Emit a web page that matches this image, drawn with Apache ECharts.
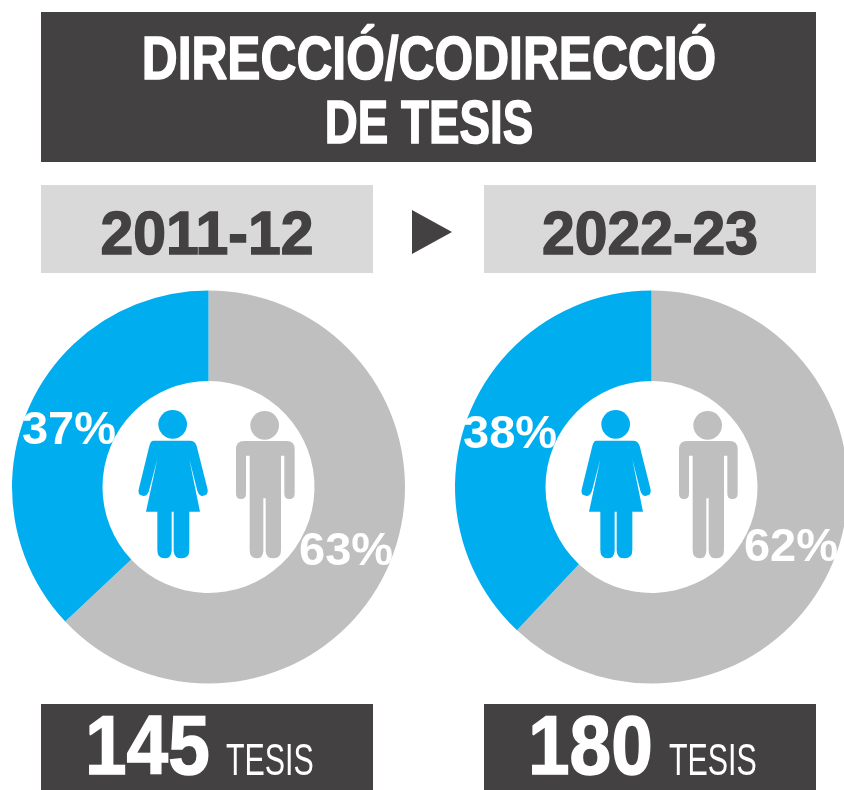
<!DOCTYPE html>
<html>
<head>
<meta charset="utf-8">
<style>
html, body { margin: 0; padding: 0; background: #fff; }
#chart { width: 844px; height: 790px; }
</style>
<script src="https://cdn.jsdelivr.net/npm/echarts@6/dist/echarts.min.js"></script>
</head>
<body>
<div id="chart"></div>
<script>
var titleLines = ["DIRECCIÓ/CODIRECCIÓ", "DE TESIS"];
var periods = ["2011-12", "2022-23"];
var womenShare = [37, 38];
var menShare = [63, 62];
var thesisCounts = [145, 180];
var thesisUnit = "TESIS";

var BLUE = "#00aeef";
var GREY = "#bfbfbf";
var DARK = "#434142";
var LIGHT = "#d9d9d9";
var FONT = '"Liberation Sans", sans-serif';

// siluetes dibuixades a escala 3x
var WOMAN_BODY = "M160 152H270Q285 152 290 168L322 295Q328 315 308 318Q297 318 292 302L268 208L300 365H268V480Q268 505 245 505Q222 505 221 482V365H215V482Q214 505 193 505Q172 505 172 480V365H138L172 208L147 302Q142 318 130 318Q110 315 117 295L148 168Q152 152 160 152Z";
var MAN_BODY = "M432 153H560Q584 153 584 178V312Q584 327 568 327Q553 327 553 312V197H543V480Q543 505 521 505Q498 505 497 482V325H490V482Q489 505 470 505Q449 505 449 480V197H438V312Q438 327 423 327Q408 327 408 312V178Q408 153 432 153Z";

echarts.graphic.registerShape("womanBody", echarts.graphic.extendPath(WOMAN_BODY, {}));
echarts.graphic.registerShape("manBody", echarts.graphic.extendPath(MAN_BODY, {}));

function box(x, y, w, h, color) {
    return { type: "rect", silent: true, shape: { x: x, y: y, width: w, height: h }, style: { fill: color } };
}

function label(text, x, y, size, color, sx) {
    return {
        type: "text",
        silent: true,
        x: x,
        y: y,
        scaleX: sx,
        style: {
            text: text,
            fill: color,
            stroke: color,
            lineWidth: 1.5,
            font: "bold " + size + "px " + FONT,
            align: "center",
            verticalAlign: "middle",
        },
    };
}

function figures(dx) {
    return {
        type: "group",
        silent: true,
        x: 100 + dx,
        y: 390,
        scaleX: 1 / 3,
        scaleY: 1 / 3,
        children: [
            { type: "circle", shape: { cx: 218, cy: 103, r: 43 }, style: { fill: BLUE } },
            { type: "womanBody", style: { fill: BLUE } },
            { type: "circle", shape: { cx: 494, cy: 106, r: 43 }, style: { fill: GREY } },
            { type: "manBody", style: { fill: GREY } },
        ],
    };
}

function countTexts(i, dx) {
    return [
        {
            type: "text",
            silent: true,
            x: 85 + dx,
            y: 751,
            scaleX: 0.89,
            style: { text: String(thesisCounts[i]), fill: "#fff", stroke: "#fff", lineWidth: 1.5, font: "bold 84px " + FONT, align: "left", verticalAlign: "middle" },
        },
        {
            type: "text",
            silent: true,
            x: 226 + dx,
            y: 763,
            scaleX: 0.69,
            style: { text: thesisUnit, fill: "#fff", font: "44px " + FONT, align: "left", verticalAlign: "middle" },
        },
    ];
}

function donut(i, cx) {
    return {
        type: "pie",
        silent: true,
        center: [cx, 487],
        radius: [106, 196.5],
        startAngle: 90,
        animation: false,
        labelLine: { show: false },
        label: {
            show: true,
            position: "inside",
            formatter: "{c}%",
            color: "#fff",
            fontFamily: FONT,
            fontWeight: "bold",
            fontSize: 47,
        },
        data: [
            { value: menShare[i], name: "Homes", itemStyle: { color: GREY }, label: { offset: [-4, 4] } },
            { value: womenShare[i], name: "Dones", itemStyle: { color: BLUE }, label: { offset: [2, 5] } },
        ],
    };
}

var myChart = echarts.init(document.getElementById("chart"), null, { renderer: "canvas" });

myChart.setOption({
    animation: false,
    backgroundColor: "#fff",
    series: [donut(0, 208.5), donut(1, 651.5)],
    graphic: [
        box(41, 12, 775, 150, DARK),
        label(titleLines[0], 429, 62, 61, "#fff", 0.815),
        label(titleLines[1], 429, 126, 61, "#fff", 0.75),
        box(41, 185, 332, 88, LIGHT),
        box(484, 185, 332, 88, LIGHT),
        label(periods[0], 207, 237, 62, DARK, 0.95),
        label(periods[1], 650, 237, 62, DARK, 0.95),
        { type: "polygon", silent: true, shape: { points: [[412, 210], [452, 232], [412, 254]] }, style: { fill: DARK } },
        figures(0),
        figures(443),
        box(41, 704, 332, 86, DARK),
        box(484, 704, 332, 86, DARK),
    ].concat(countTexts(0, 0), countTexts(1, 443)),
});
</script>
</body>
</html>
